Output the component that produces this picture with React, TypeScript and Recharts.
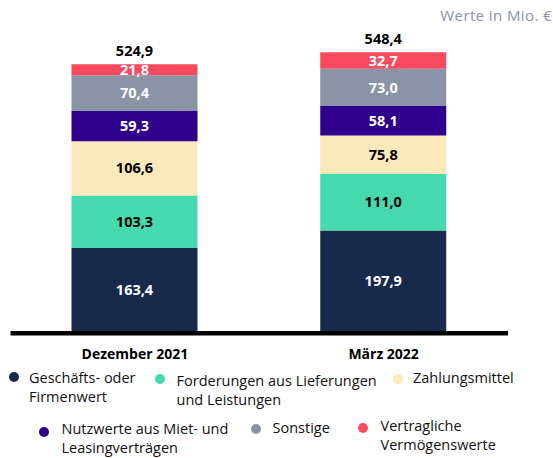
import React from 'react';
import { BarChart, Bar, XAxis, YAxis, LabelList } from 'recharts';

const categories = ['Dezember 2021', 'März 2022'];
const goodwill = [163.4, 197.9];
const receivables = [103.3, 111.0];
const cash = [106.6, 75.8];
const rightOfUse = [59.3, 58.1];
const other = [70.4, 73.0];
const contractAssets = [21.8, 32.7];
const totals = [524.9, 548.4];

const seriesNames = [
  'Geschäfts- oder Firmenwert',
  'Forderungen aus Lieferungen und Leistungen',
  'Zahlungsmittel',
  'Nutzwerte aus Miet- und Leasingverträgen',
  'Sonstige',
  'Vertragliche Vermögenswerte',
];
const legendLines = [
  ['Geschäfts- oder', 'Firmenwert'],
  ['Forderungen aus Lieferungen', 'und Leistungen'],
  ['Zahlungsmittel'],
  ['Nutzwerte aus Miet- und', 'Leasingverträgen'],
  ['Sonstige'],
  ['Vertragliche', 'Vermögenswerte'],
];
const unitNote = 'Werte in Mio. €';

const seriesValues = [goodwill, receivables, cash, rightOfUse, other, contractAssets];
const keys = ['s0', 's1', 's2', 's3', 's4', 's5'];
const colors = ['#172a4c', '#47d9ae', '#fbe8bb', '#2e008c', '#8a94a6', '#fa4a5f'];
const labelColors = ['#ffffff', '#000000', '#000000', '#ffffff', '#ffffff', '#ffffff'];

const data = categories.map((c, i) => {
  const row: any = { cat: c };
  keys.forEach((k, j) => (row[k] = seriesValues[j][i]));
  return row;
});

const fmt = (v: any) => Number(v).toFixed(1).replace('.', ',');
const FONT = '"Open Sans", sans-serif';

const TotalLabel = (props: any) => {
  const { x, y, width, index } = props;
  return (
    <text x={Number(x) + Number(width) / 2} y={Number(y) - 8.5} textAnchor="middle" fontWeight={700} fontSize={14.5} fill="#000" fontFamily={FONT}>
      {fmt(totals[index])}
    </text>
  );
};

const CatTick = (props: any) => {
  const { x, y, payload } = props;
  return (
    <text x={x} y={y + 27.5} textAnchor="middle" fontWeight={700} fontSize={14} fill="#000" fontFamily={FONT}>
      {payload.value}
    </text>
  );
};

// legend layout: [circleX, circleY, textX, textTopY]
const legendPos = [
  [14, 377, 29, 367.5],
  [160, 379, 176.5, 370.5],
  [397.5, 379, 413, 367.5],
  [44, 431.5, 61.5, 418.5],
  [256, 428.5, 272.5, 417.5],
  [362.5, 427.5, 380.5, 415.5],
];

export default function App() {
  return (
    <div style={{ position: 'absolute', left: 0, top: 0, width: 553, height: 458, background: '#fff', fontFamily: FONT }}>
      <BarChart width={553} height={458} data={data} margin={{ top: 26, right: 45, left: 10.5, bottom: 0 }}>
        <XAxis
          dataKey="cat"
          height={127}
          tickLine={false}
          tickSize={0}
          tickMargin={0}
          axisLine={{ stroke: '#000', strokeWidth: 4.5, transform: 'translate(0,2.25)' }}
          tick={<CatTick />}
        />
        <YAxis hide domain={[0, 600]} />
        {keys.map((k, j) => (
          <Bar key={k} dataKey={k} name={seriesNames[j]} stackId="a" fill={colors[j]} barSize={126} isAnimationActive={false}>
            <LabelList dataKey={k} position="center" formatter={fmt} fill={labelColors[j]} fontWeight={700} fontSize={14.5} fontFamily={FONT} />
            {j === keys.length - 1 && <LabelList dataKey={k} content={<TotalLabel />} />}
          </Bar>
        ))}
      </BarChart>
      <div style={{ position: 'absolute', right: 1, top: 4.5, fontSize: 15, letterSpacing: 0.4, lineHeight: '20px', color: '#8a94a6', fontFamily: FONT, whiteSpace: 'nowrap' }}>{unitNote}</div>
      {legendLines.map((lines, i) => {
        const [cx, cy, tx, ty] = legendPos[i];
        return (
          <React.Fragment key={i}>
            <div style={{ position: 'absolute', left: cx - 5, top: cy - 5, width: 10, height: 10, borderRadius: '50%', background: colors[i] }} />
            <div style={{ position: 'absolute', left: tx, top: ty, fontSize: 14.5, lineHeight: '19px', color: '#111', whiteSpace: 'nowrap', fontFamily: FONT }}>
              {lines.map((l, m) => (
                <div key={m}>{l}</div>
              ))}
            </div>
          </React.Fragment>
        );
      })}
    </div>
  );
}
